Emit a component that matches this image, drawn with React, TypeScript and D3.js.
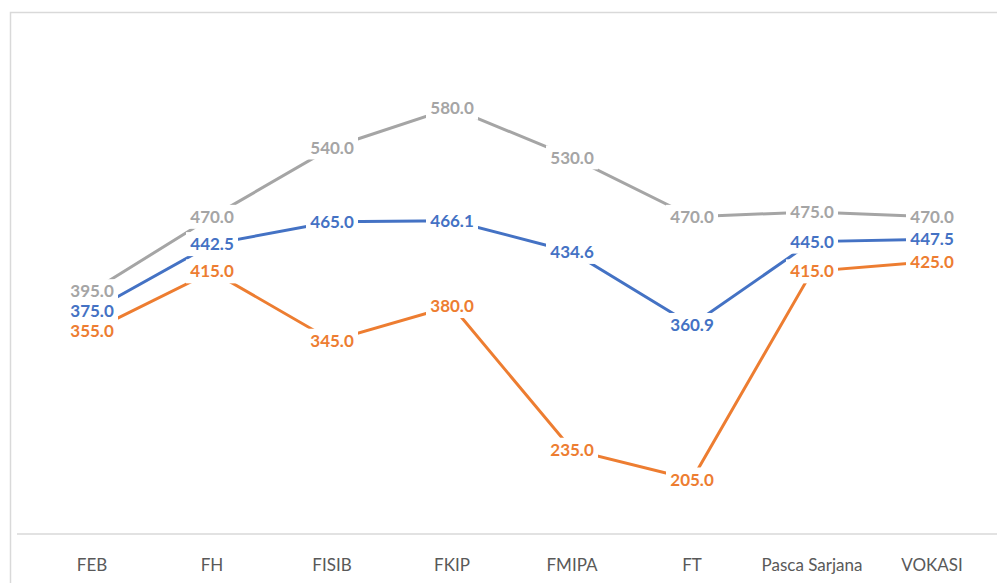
import React from "react";
import { scaleBand, scaleLinear, line } from "d3";

const categories = ["FEB", "FH", "FISIB", "FKIP", "FMIPA", "FT", "Pasca Sarjana", "VOKASI"];
const blueValues = [375.0, 442.5, 465.0, 466.1, 434.6, 360.9, 445.0, 447.5];
const orangeValues = [355.0, 415.0, 345.0, 380.0, 235.0, 205.0, 415.0, 425.0];
const grayValues = [395.0, 470.0, 540.0, 580.0, 530.0, 470.0, 475.0, 470.0];

const series = [
  { name: "s1", values: blueValues, color: "#4472C4" },
  { name: "s2", values: orangeValues, color: "#ED7D31" },
  { name: "s3", values: grayValues, color: "#A5A5A5" },
];

export default function App() {
  const width = 997;
  const height = 583;
  const margin = { top: 88, right: 5, bottom: 49, left: 32 };

  const xScale = scaleBand()
    .domain(categories)
    .range([margin.left, width - margin.right])
    .padding(0);

  const yScale = scaleLinear()
    .domain([150, 600])
    .range([height - margin.bottom, margin.top]);

  const cx = (c: string) => (xScale(c) as number) + xScale.bandwidth() / 2;

  const lineGen = line<number>()
    .x((d, i) => cx(categories[i]))
    .y(d => yScale(d));

  return (
    <div style={{ position: "absolute", left: 0, top: 0 }}>
      <svg width={width} height={height} style={{ display: "block" }}>
        <rect x={0} y={0} width={width} height={height} fill="#fff" />
        {/* chart border */}
        <rect x={10.5} y={12.5} width={width} height={height} fill="none" stroke="#D9D9D9" strokeWidth={1.5} />
        {/* x axis */}
        <line x1={17} x2={width} y1={yScale(150)} y2={yScale(150)} stroke="#D9D9D9" strokeWidth={1.5} />
        {categories.map(c => (
          <text
            key={c}
            x={cx(c)}
            y={yScale(150) + 37}
            textAnchor="middle"
            fontFamily="Lato, 'Open Sans', sans-serif"
            fontSize={17}
            fill="#595959"
          >
            {c}
          </text>
        ))}

        {series.map(s => (
          <path key={s.name} d={lineGen(s.values) || ""} fill="none" stroke={s.color} strokeWidth={3} />
        ))}

        {series.map(s => (
          <g key={s.name + "-labels"}>
            {s.values.map((v, i) => (
              <g key={i} transform={`translate(${cx(categories[i])}, ${yScale(v)})`}>
                <rect x={-26} y={-12} width={52} height={24} fill="#fff" />
                <text
                  textAnchor="middle"
                  dy="0.36em"
                  fontFamily="Lato, 'Open Sans', sans-serif"
                  fontWeight="bold"
                  fontSize={17}
                  fill={s.color}
                >
                  {v.toFixed(1)}
                </text>
              </g>
            ))}
          </g>
        ))}
      </svg>
    </div>
  );
}
